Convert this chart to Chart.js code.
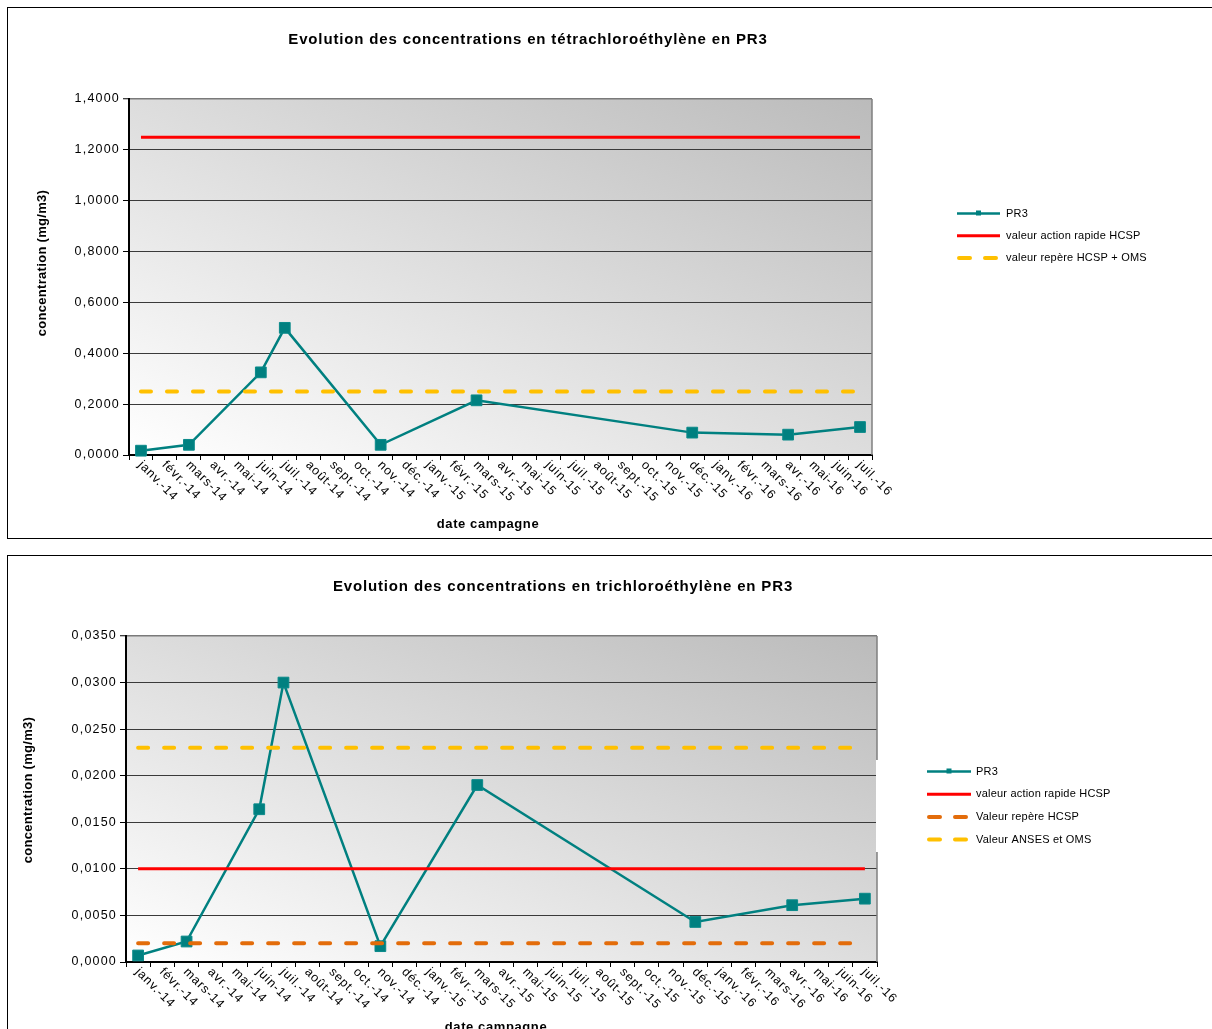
<!DOCTYPE html>
<html>
<head>
<meta charset="utf-8">
<script src="https://cdn.jsdelivr.net/npm/chart.js@4.4.1/dist/chart.umd.min.js"></script>
<style>
  html, body { margin: 0; padding: 0; background: #fff; }
  body { width: 1212px; height: 1029px; position: relative; overflow: hidden; }
  .frame { position: absolute; left: 7px; border: 1px solid #000; box-sizing: border-box; }
  #frame1 { top: 7px; width: 1230px; height: 532px; }
  #frame2 { top: 555px; width: 1230px; height: 520px; }
  canvas { position: absolute; }
</style>
</head>
<body>
<div class="frame" id="frame1"></div>
<div class="frame" id="frame2"></div>
<canvas id="c1" width="1204" height="530" style="left:8px;top:8px;width:1204px;height:530px"></canvas>
<canvas id="c2" width="1204" height="473" style="left:8px;top:556px;width:1204px;height:473px"></canvas>
<script>
// Sampling campaigns (monthly category axis)
const months = ['janv.-14','févr.-14','mars-14','avr.-14','mai-14','juin-14','juil.-14','août-14','sept.-14','oct.-14','nov.-14','déc.-14',
  'janv.-15','févr.-15','mars-15','avr.-15','mai-15','juin-15','juil.-15','août-15','sept.-15','oct.-15','nov.-15','déc.-15',
  'janv.-16','févr.-16','mars-16','avr.-16','mai-16','juin-16','juil.-16'];

// Tetrachloroethylene at PR3 (mg/m3), null = no measurement that month
const pce = [0.017, null, 0.040, null, null, 0.325, 0.500, null, null, null, 0.040, null,
  null, null, 0.215, null, null, null, null, null, null, null, null, 0.088,
  null, null, null, 0.080, null, null, 0.110];
const pceActionHCSP = 1.25;
const pceRepereHCSP_OMS = 0.25;
const pceTicks = [0, 0.2, 0.4, 0.6, 0.8, 1.0, 1.2, 1.4];

// Trichloroethylene at PR3 (mg/m3)
const tce = [0.0007, null, 0.0022, null, null, 0.0164, 0.0300, null, null, null, 0.0017, null,
  null, null, 0.0190, null, null, null, null, null, null, null, null, 0.0043,
  null, null, null, 0.0061, null, null, 0.0068];
const tceActionHCSP = 0.010;
const tceRepereHCSP = 0.002;
const tceAnsesOMS = 0.023;
const tceTicks = [0, 0.005, 0.010, 0.015, 0.020, 0.025, 0.030, 0.035];

const FONT = '"Liberation Sans", Arial, sans-serif';
const fmt = v => v.toFixed(4).replace('.', ',');
const flat = v => months.map(() => v);

// Plot background, frame, titles, rotated month labels and legend
const plotDeco = {
  id: 'plotDeco',
  beforeDraw(chart) {
    const { ctx, chartArea: a } = chart;
    const W = a.right - a.left, H = a.bottom - a.top;
    const k = 2 * W * H / (W * W + H * H);
    const g = ctx.createLinearGradient(a.left, a.bottom, a.left + H * k, a.bottom - W * k);
    g.addColorStop(0, '#ffffff');
    g.addColorStop(1, '#bbbbbb');
    ctx.save();
    ctx.fillStyle = g;
    ctx.fillRect(a.left, a.top, W, H);
    ctx.restore();
    ctx.letterSpacing = '1.2px';
  },
  beforeDatasetsDraw(chart) {
    const { ctx, chartArea: a } = chart;
    ctx.save();
    ctx.strokeStyle = '#7f7f7f';
    ctx.lineWidth = 1.5;
    ctx.beginPath();
    ctx.moveTo(a.right, a.top);
    ctx.lineTo(a.right, a.bottom);
    ctx.stroke();
    ctx.restore();
  },
  afterDraw(chart, args, o) {
    const { ctx, chartArea: a } = chart;
    const xs = chart.scales.x;
    ctx.save();
    ctx.fillStyle = '#000';

    // month labels, turned 45° downward
    ctx.font = '12.5px ' + FONT;
    ctx.letterSpacing = '0.9px';
    ctx.textAlign = 'left';
    ctx.textBaseline = 'middle';
    chart.data.labels.forEach((lab, i) => {
      const x = xs.getPixelForValue(i);
      ctx.save();
      ctx.translate(x - 1, a.bottom + 8);
      ctx.rotate(Math.PI / 4);
      ctx.fillText(lab, 0, 0);
      ctx.restore();
    });

    // chart title
    ctx.font = 'bold 15px ' + FONT;
    ctx.letterSpacing = '0.85px';
    ctx.textAlign = 'center';
    ctx.fillText(o.title, o.titleX, o.titleY);

    // axis titles
    ctx.font = 'bold 13px ' + FONT;
    ctx.letterSpacing = '0.6px';
    ctx.fillText('date campagne', o.xTitleX, o.xTitleY);
    ctx.save();
    ctx.letterSpacing = '0.3px';
    ctx.translate(o.yTitleX, o.yTitleY);
    ctx.rotate(-Math.PI / 2);
    ctx.fillText('concentration (mg/m3)', 0, 0);
    ctx.restore();

    // legend
    const L = o.legend;
    if (L.box) {
      ctx.fillStyle = '#fff';
      ctx.fillRect(a.right - 1, L.box[0], 400, L.box[1]);
    }
    ctx.font = '11px ' + FONT;
    ctx.letterSpacing = '0.2px';
    ctx.textAlign = 'left';
    chart.data.datasets.forEach((ds, i) => {
      const y = L.y + i * L.step;
      ctx.save();
      ctx.strokeStyle = ds.borderColor;
      ctx.lineWidth = ds.borderWidth;
      ctx.lineCap = ds.borderCapStyle || 'butt';
      ctx.setLineDash(ds.borderDash ? [11, 15] : []);
      ctx.beginPath();
      ctx.moveTo(L.x0 + (ds.borderDash ? 2 : 0), y);
      ctx.lineTo(L.x1, y);
      ctx.stroke();
      if (ds.pointRadius) {
        ctx.fillStyle = ds.pointBackgroundColor;
        const m = (L.x0 + L.x1) / 2;
        ctx.fillRect(m - 2.5, y - 3, 5, 5);
      }
      ctx.restore();
      ctx.fillStyle = '#000';
      ctx.fillText(ds.label, L.tx, y);
    });
    ctx.restore();
  }
};

function pr3(data) {
  return {
    label: 'PR3', data, order: 1, clip: false,
    borderColor: '#008080', borderWidth: 2.5, spanGaps: true, tension: 0,
    pointStyle: 'rect', pointRadius: 7.6, pointBackgroundColor: '#008080',
    pointBorderColor: '#0a8a8a', pointBorderWidth: 1
  };
}
function refLine(label, value, color, dashed) {
  const d = {
    label, data: flat(value), order: 0,
    borderColor: color, borderWidth: dashed ? 4 : 3, pointRadius: 0, tension: 0
  };
  if (dashed) { d.borderDash = [10, 16]; d.borderCapStyle = 'round'; }
  return d;
}

function build(id, datasets, yTicks, geo, deco) {
  const top = yTicks.length - 1;
  return new Chart(document.getElementById(id), {
    type: 'line',
    data: { labels: months, datasets },
    options: {
      responsive: false,
      animation: false,
      events: [],
      layout: { padding: { top: geo.top, right: geo.right, left: 0, bottom: 0 } },
      plugins: {
        legend: { display: false },
        title: { display: false },
        tooltip: { enabled: false },
        plotDeco: deco
      },
      scales: {
        x: {
          type: 'category',
          offset: true,
          grid: { offset: true, drawOnChartArea: false, drawTicks: true, tickLength: 5, tickColor: '#000', tickWidth: 1 },
          border: { color: '#000', width: 2 },
          ticks: { display: false },
          afterFit(s) { s.height = geo.xh; }
        },
        y: {
          min: yTicks[0],
          max: yTicks[top],
          afterBuildTicks(s) { s.ticks = yTicks.map(v => ({ value: v })); },
          ticks: {
            color: '#000', padding: 3,
            font: { family: '"Liberation Sans", Arial, sans-serif', size: 12.5 },
            callback: v => fmt(v)
          },
          grid: {
            color: c => (c.index === top ? '#7a7a7a' : '#3a3a3a'),
            lineWidth: c => (c.index === top ? 1.5 : 1),
            tickColor: '#000', tickLength: 6, tickWidth: 1
          },
          border: { color: '#000', width: 2 },
          afterFit(s) { s.width = geo.yw; }
        }
      }
    },
    plugins: [plotDeco]
  });
}

build('c1', [
  pr3(pce),
  refLine('valeur action rapide HCSP', pceActionHCSP, '#ff0000', false),
  refLine('valeur repère HCSP + OMS', pceRepereHCSP_OMS, '#ffc000', true)
], pceTicks,
  { top: 91, right: 340, xh: 83, yw: 121 },
  {
    title: 'Evolution des concentrations en tétrachloroéthylène en PR3',
    titleX: 520, titleY: 32,
    xTitleX: 480, xTitleY: 516,
    yTitleX: 34, yTitleY: 255,
    legend: { x0: 949, x1: 992, tx: 998, y: 205.5, step: 22.3 }
  });

build('c2', [
  pr3(tce),
  refLine('valeur action rapide HCSP', tceActionHCSP, '#ff0000', false),
  refLine('Valeur repère HCSP', tceRepereHCSP, '#e36c0a', true),
  refLine('Valeur ANSES et OMS', tceAnsesOMS, '#ffc000', true)
], tceTicks,
  { top: 80, right: 335, xh: 67, yw: 118 },
  {
    title: 'Evolution des concentrations en trichloroéthylène en PR3',
    titleX: 555, titleY: 30.5,
    xTitleX: 488, xTitleY: 471,
    yTitleX: 20, yTitleY: 234,
    legend: { x0: 919, x1: 963, tx: 968, y: 215.5, step: 22.7, box: [204, 92] }
  });
</script>
</body>
</html>
